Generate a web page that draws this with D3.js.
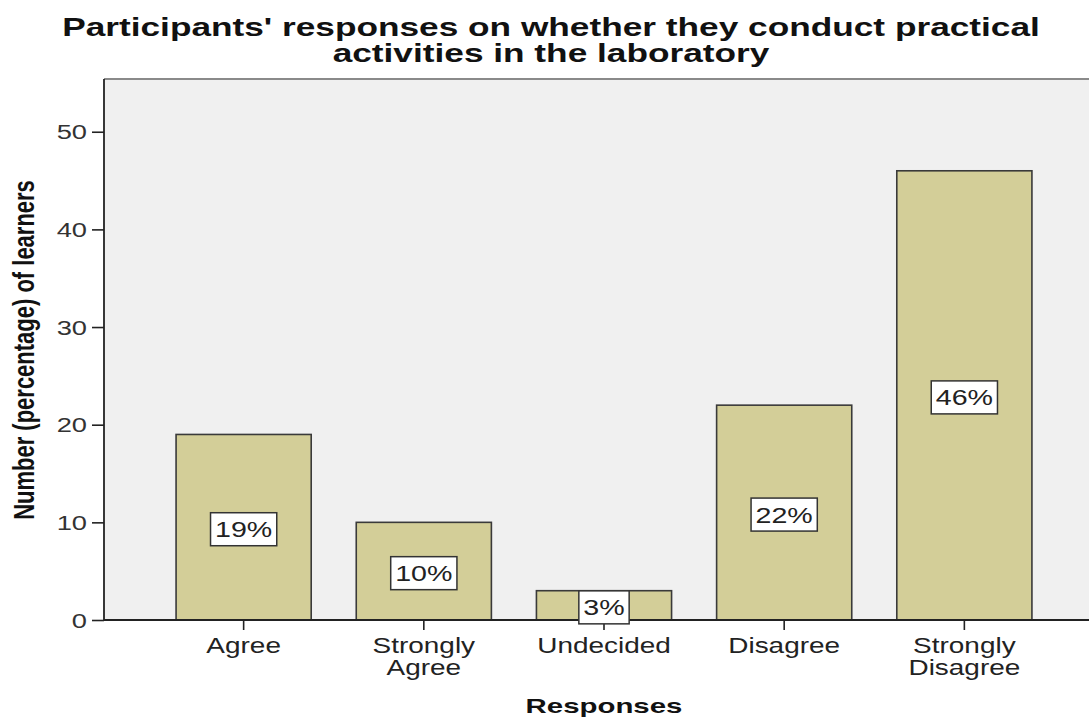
<!DOCTYPE html>
<html>
<head>
<meta charset="utf-8">
<script src="https://cdn.jsdelivr.net/npm/d3@7"></script>
<style>
  html, body { margin: 0; padding: 0; background: #fff; }
  svg { display: block; }
  text { font-family: "Liberation Sans", Arial, sans-serif; fill: #111; }
</style>
</head>
<body>
<svg id="chart" width="1089" height="717"></svg>
<script>
// Response categories and learner counts (percent of 100 learners)
const categories = ["Agree", "Strongly Agree", "Undecided", "Disagree", "Strongly Disagree"];
const categoryLines = [["Agree"], ["Strongly", "Agree"], ["Undecided"], ["Disagree"], ["Strongly", "Disagree"]];
const counts = [19, 10, 3, 22, 46];
const percentLabels = ["19%", "10%", "3%", "22%", "46%"];
const yTicks = [0, 10, 20, 30, 40, 50];
const titleLines = ["Participants' responses on whether they conduct practical", "activities in the laboratory"];
const xTitle = "Responses";
const yTitle = "Number (percentage) of learners";

const W = 1089, H = 717;
const plot = { left: 104, right: 1104, top: 79, bottom: 620 };
const STRETCH = 1.3; // wide lettering used throughout

const svg = d3.select("#chart");

const x = d3.scaleBand()
  .domain(categories)
  .range([plot.left, plot.right])
  .paddingInner(0.25)
  .paddingOuter(0.4);

const y = d3.scaleLinear()
  .domain([0, 55.4])
  .range([plot.bottom, plot.top]);

// helper: horizontally stretched text anchored at (px, py)
function wideText(sel, px, py, str, opts = {}) {
  const sx = opts.stretch || STRETCH;
  const t = sel.append("text")
    .attr("transform", `translate(${px},${py}) scale(${sx},1)` + (opts.rotate ? ` rotate(${opts.rotate})` : ""))
    .attr("text-anchor", opts.anchor || "middle")
    .attr("font-size", opts.size || 21)
    .attr("font-weight", opts.weight || "normal")
    .text(str);
  if (opts.fill) t.style("fill", opts.fill);
  return t;
}

// plot background
svg.append("rect")
  .attr("x", plot.left).attr("y", plot.top)
  .attr("width", W - plot.left + 10).attr("height", plot.bottom - plot.top)
  .attr("fill", "#f0f0f0");

// top frame line
svg.append("line")
  .attr("x1", plot.left).attr("x2", W + 10)
  .attr("y1", plot.top).attr("y2", plot.top)
  .attr("stroke", "#8a8a8a").attr("stroke-width", 2);

// bars
svg.append("g").selectAll("rect")
  .data(categories)
  .join("rect")
  .attr("x", d => x(d))
  .attr("y", (d, i) => y(counts[i]))
  .attr("width", x.bandwidth())
  .attr("height", (d, i) => y(0) - y(counts[i]))
  .attr("fill", "#d3ce98")
  .attr("stroke", "#3a3a3a")
  .attr("stroke-width", 1.6);

// y axis
const yAxis = svg.append("g")
  .attr("transform", `translate(${plot.left},0)`)
  .call(d3.axisLeft(y).tickValues(yTicks).tickSize(12).tickFormat(""));
yAxis.select(".domain").attr("stroke", "#222").attr("stroke-width", 1.8)
  .attr("d", `M0,${plot.top}V${plot.bottom}`);
yAxis.selectAll(".tick line").attr("stroke", "#222").attr("stroke-width", 1.6);
yTicks.forEach(v => {
  wideText(svg, plot.left - 17, y(v) + 7.5, String(v), { anchor: "end", size: 21, fill: "#333" });
});

// x axis
const xAxis = svg.append("g")
  .attr("transform", `translate(0,${plot.bottom})`)
  .call(d3.axisBottom(x).tickSize(10).tickFormat(""));
xAxis.select(".domain").attr("stroke", "#222").attr("stroke-width", 1.8)
  .attr("d", `M${plot.left},0H${W + 10}`);
xAxis.selectAll(".tick line").attr("stroke", "#222").attr("stroke-width", 1.6);
categories.forEach((c, i) => {
  categoryLines[i].forEach((ln, j) => {
    wideText(svg, x(c) + x.bandwidth() / 2, 653 + j * 22, ln, { size: 21.5, fill: "#222" });
  });
});

// value labels in boxes at bar mid-height
const labelSize = 22;
categories.forEach((c, i) => {
  const cx = x(c) + x.bandwidth() / 2;
  const cy = y(counts[i] / 2) + 2;
  const g = svg.append("g");
  const t = wideText(g, cx, cy + 8, percentLabels[i], { size: labelSize, fill: "#222" });
  const w = t.node().getComputedTextLength() * STRETCH + 9;
  g.insert("rect", "text")
    .attr("x", cx - w / 2).attr("y", cy - 16.5)
    .attr("width", w).attr("height", 33)
    .attr("fill", "#fff")
    .attr("stroke", "#333").attr("stroke-width", 1.5);
});

// titles
wideText(svg, 551, 36, titleLines[0], { size: 25, weight: "bold", stretch: 1.41 });
wideText(svg, 551, 62, titleLines[1], { size: 25, weight: "bold", stretch: 1.41 });
wideText(svg, 604, 713, xTitle, { size: 21, weight: "bold", stretch: 1.4 });
wideText(svg, 34, 350, yTitle, { size: 22, weight: "bold", rotate: -90 });
</script>
</body>
</html>
